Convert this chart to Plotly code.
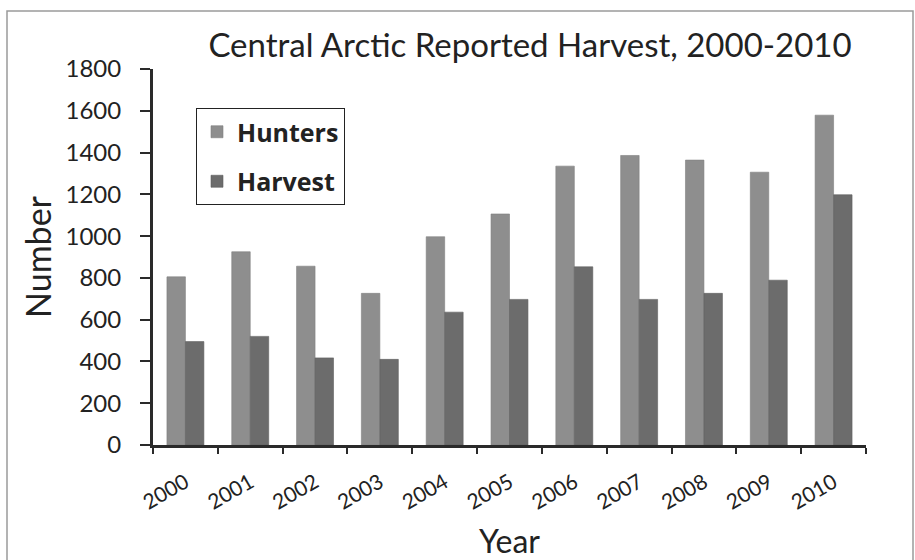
import plotly.graph_objects as go

years = ["2000", "2001", "2002", "2003", "2004", "2005", "2006", "2007", "2008", "2009", "2010"]
hunters = [805, 925, 856, 726, 997, 1106, 1335, 1386, 1364, 1306, 1579]
harvest = [495, 520, 417, 410, 636, 697, 853, 697, 726, 789, 1198]
y_ticks = [0, 200, 400, 600, 800, 1000, 1200, 1400, 1600, 1800]

FONT = "Lato"
TXT = "#222222"

fig = go.Figure()
fig.add_trace(go.Bar(x=years, y=hunters, name="Hunters", legendgroup="a",
                     marker=dict(color="#8e8e8e", line=dict(color="#7f7f7f", width=0.6))))
fig.add_trace(go.Bar(x=years, y=harvest, name="Harvest", legendgroup="b",
                     marker=dict(color="#6c6c6c", line=dict(color="#5f5f5f", width=0.6))))

L, R, T, B = 153, 49, 69, 115
W, H = 915, 560
pw, ph = W - L - R, H - T - B

fig.update_layout(
    width=W, height=H,
    margin=dict(l=L, r=R, t=T, b=B, autoexpand=False),
    paper_bgcolor="white", plot_bgcolor="white",
    barmode="group", bargap=0.43, bargroupgap=0,
    font=dict(family=FONT, color=TXT),
    title=dict(text="Central Arctic Reported Harvest, 2000-2010",
               x=530 / W, xanchor="center", y=1 - 45 / H, yanchor="middle",
               font=dict(family=FONT, size=33, color=TXT)),
    legend=dict(x=(196 - L) / pw, y=(H - B - 108) / ph, xanchor="left", yanchor="top",
                bordercolor="#222", borderwidth=1, bgcolor="white",
                font=dict(family="Open Sans", size=25, color=TXT, weight="bold"),
                traceorder="grouped", tracegroupgap=14),
    xaxis=dict(showline=True, linecolor="#2a2a2a", linewidth=3,
               ticks="outside", tickson="boundaries", ticklen=6, tickwidth=2, tickcolor="#2a2a2a",
               tickangle=-30, ticklabelstandoff=14,
               tickfont=dict(family=FONT, size=21, color=TXT),
               title=dict(text="Year", font=dict(family=FONT, size=32, color=TXT), standoff=18)),
    yaxis=dict(range=[0, 1800], tickvals=y_ticks, showgrid=False, zeroline=False,
               showline=True, linecolor="#2a2a2a", linewidth=3,
               ticks="outside", ticklen=10, tickwidth=2, tickcolor="#2a2a2a",
               ticklabelstandoff=14,
               tickfont=dict(family=FONT, size=24, color=TXT),
               title=dict(text="Number", font=dict(family=FONT, size=34, color=TXT), standoff=4)),
)

fig.add_shape(type="rect", xref="paper", yref="paper",
              x0=(7 - L) / pw, x1=(913 - L) / pw,
              y0=(H - B - 575) / ph, y1=(H - B - 11) / ph,
              line=dict(color="#9a9a9a", width=1.5), layer="below")

fig.write_html("out.html", config={"displayModeBar": False},
               post_script="document.body.style.margin='0';")
